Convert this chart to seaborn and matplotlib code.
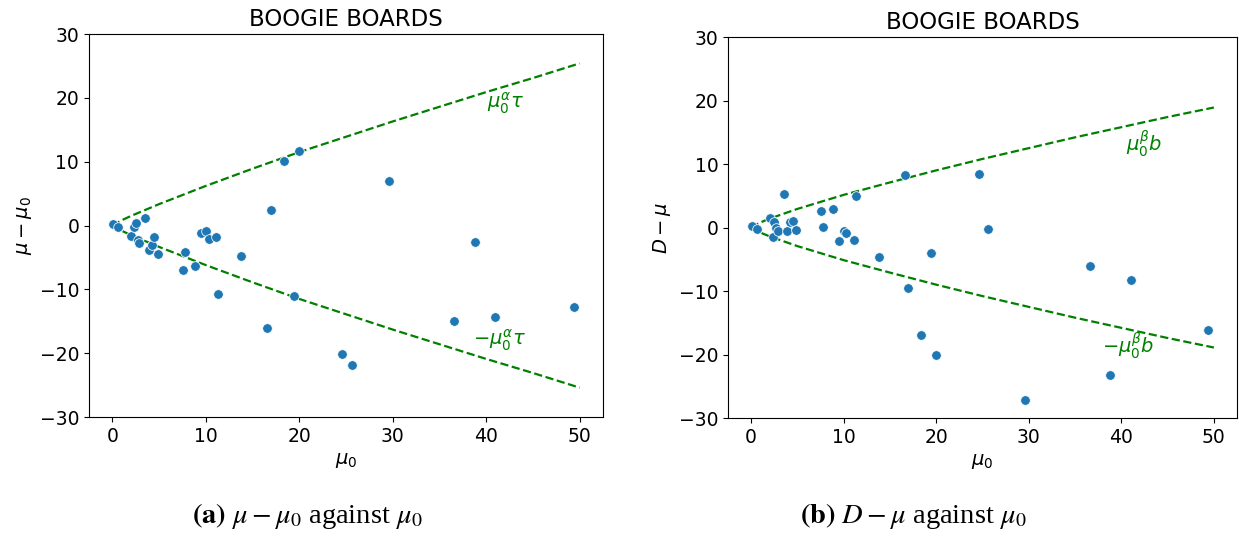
import matplotlib
matplotlib.use("Agg")
import matplotlib.pyplot as plt
import pandas as pd
import seaborn as sns

# mu0 of each board, shared by both panels
mu0 = [0.1, 0.6, 2.0, 2.35, 2.5, 2.7, 2.9, 3.5, 3.9, 4.2, 4.5, 4.85,
       7.6, 7.8, 8.8, 9.5, 10.0, 10.3, 11.1, 11.3, 13.8, 16.6, 17.0,
       18.4, 19.4, 20.0, 24.6, 25.6, 29.6, 36.6, 38.8, 41.0, 49.4]
mu_minus_mu0 = [0.2, -0.3, -1.6, -0.3, 0.4, -2.2, -2.8, 1.2, -3.8, -3.1, -1.8, -4.5,
                -6.9, -4.1, -6.4, -1.2, -0.9, -2.1, -1.8, -10.8, -4.7, -16.0, 2.5,
                10.1, -11.0, 11.6, -20.2, -21.9, 6.9, -15.0, -2.6, -14.4, -12.7]
d_minus_mu = [0.3, -0.2, 1.5, -1.5, 0.8, 0.0, -0.5, 5.2, -0.5, 0.8, 1.0, -0.4,
              2.6, 0.05, 2.9, -2.2, -0.5, -0.9, -1.9, 5.0, -4.7, 8.3, -9.5,
              -16.9, -4.0, -20.1, 8.4, -0.3, -27.2, -6.0, -23.2, -8.3, -16.1]

# envelope curves
curve_x = [0, 1, 2, 5, 10, 15, 20, 25, 30, 35, 40, 45, 50]
tau_env = [0, 0.82, 1.5, 3.35, 6.2, 8.9, 11.5, 13.9, 16.3, 18.6, 20.9, 23.1, 25.4]
b_env = [0, 0.8, 1.4, 2.93, 5.14, 7.1, 9.0, 10.8, 12.5, 14.2, 15.8, 17.4, 18.9]

df = pd.DataFrame({"mu0": mu0, "dmu": mu_minus_mu0, "dD": d_minus_mu})
env = pd.DataFrame({"x": curve_x, "tau": tau_env, "b": b_env})
env["neg_tau"] = -env["tau"]
env["neg_b"] = -env["b"]

fig = plt.figure(figsize=(12.44, 5.34), dpi=100)
ax1 = fig.add_axes([0.0715, 0.2191, 0.4132, 0.7172])
ax2 = fig.add_axes([0.5852, 0.2172, 0.4092, 0.7135])

panels = [
    (ax1, "dmu", "tau", "neg_tau", r"$\mu - \mu_0$",
     r"$\mu_0^\alpha\tau$", (42.1, 19.2), r"$-\mu_0^\alpha\tau$", (41.4, -18.0)),
    (ax2, "dD", "b", "neg_b", r"$D - \mu$",
     r"$\mu_0^\beta b$", (42.5, 13.2), r"$-\mu_0^\beta b$", (40.7, -18.6)),
]

for ax, ycol, up, down, ylabel, up_txt, up_pos, dn_txt, dn_pos in panels:
    sns.lineplot(data=env, x="x", y=up, ax=ax, color="green", linestyle="--", lw=1.6)
    sns.lineplot(data=env, x="x", y=down, ax=ax, color="green", linestyle="--", lw=1.6)
    sns.scatterplot(data=df, x="mu0", y=ycol, ax=ax, color="#1f77b4", s=48, zorder=3)
    ax.text(*up_pos, up_txt, color="green", fontsize=14, ha="center", va="center")
    ax.text(*dn_pos, dn_txt, color="green", fontsize=14, ha="center", va="center")
    ax.set_ylim(-30, 30)
    ax.set_title("BOOGIE BOARDS", fontsize=16.5)
    ax.set_xlabel(r"$\mu_0$", fontsize=14)
    ax.set_ylabel(ylabel, fontsize=14)
    ax.tick_params(labelsize=13.5)

cap_kw = dict(fontsize=20.5, ha="center", va="center", family="Liberation Serif",
              math_fontfamily="stix")
fig.text(0.247, 0.034, r"$\mathbf{(a)}$ $\mu - \mu_0$ against $\mu_0$", **cap_kw)
fig.text(0.734, 0.034, r"$\mathbf{(b)}$ $D - \mu$ against $\mu_0$", **cap_kw)

fig.savefig("out.png", dpi=100)
